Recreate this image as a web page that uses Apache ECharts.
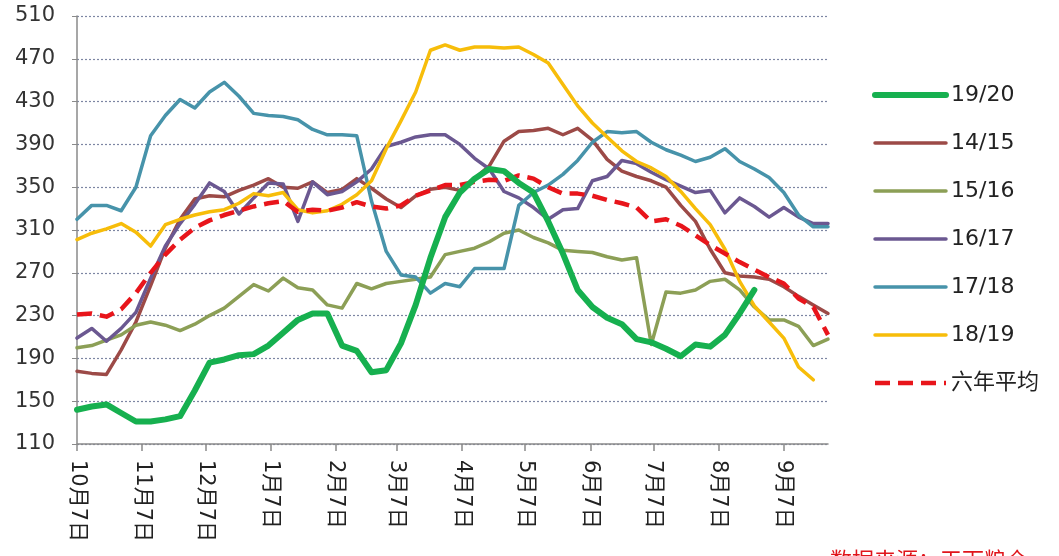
<!DOCTYPE html>
<html>
<head>
<meta charset="utf-8">
<script src="https://cdn.jsdelivr.net/npm/echarts@6/dist/echarts.min.js"></script>
<style>
html, body { margin: 0; padding: 0; background: #fff; }
#chart { width: 1059px; height: 556px; }
</style>
</head>
<body>
<div id="chart"></div>
<script>
// -------------------------
// Weekly stock comparison, season starts 10月7日
// -------------------------

// Series names (legend order)
const seriesNames = ['19/20', '14/15', '15/16', '16/17', '17/18', '18/19', '六年平均'];

// Weekly values, one point every 7 days from 10月7日
const s1920 = [142, 145, 147, 139, 131, 131, 133, 136, 160, 186, 189, 193, 194, 202, 214, 226, 232, 232, 202, 197, 177, 179, 204, 240, 284, 322, 345, 358, 367, 365, 354, 345, 318, 288, 254, 238, 228, 222, 208, 205, 199, 192, 203, 201, 212, 232, 254];
const s1415 = [178, 176, 175, 198, 224, 258, 293, 320, 339, 342, 341, 347, 352, 358, 350, 349, 355, 345, 348, 358, 349, 339, 331, 342, 348, 350, 347, 358, 370, 393, 402, 403, 405, 399, 405, 394, 376, 365, 360, 356, 350, 333, 318, 292, 270, 267, 266, 264, 257, 248, 240, 232];
const s1516 = [200, 202, 207, 212, 221, 224, 221, 216, 222, 230, 237, 248, 259, 253, 265, 256, 254, 240, 237, 260, 255, 260, 262, 264, 266, 287, 290, 293, 299, 307, 310, 303, 298, 291, 290, 289, 285, 282, 284, 203, 252, 251, 254, 262, 264, 254, 238, 226, 226, 220, 202, 208];
const s1617 = [209, 218, 206, 218, 233, 265, 295, 316, 334, 354, 346, 325, 340, 354, 353, 318, 355, 343, 346, 355, 367, 388, 392, 397, 399, 399, 390, 377, 367, 346, 340, 331, 320, 329, 330, 356, 360, 375, 372, 364, 357, 351, 345, 347, 326, 340, 332, 322, 331, 322, 316, 316];
const s1718 = [320, 333, 333, 328, 350, 398, 417, 432, 424, 439, 448, 435, 419, 417, 416, 413, 404, 399, 399, 398, 337, 290, 268, 266, 251, 260, 257, 274, 274, 274, 333, 345, 352, 362, 375, 392, 402, 401, 402, 392, 385, 380, 374, 378, 386, 374, 367, 359, 345, 324, 313, 313];
const s1819 = [301, 307, 311, 316, 308, 295, 315, 320, 324, 327, 329, 335, 344, 342, 345, 329, 326, 328, 334, 343, 356, 386, 412, 439, 478, 483, 478, 481, 481, 480, 481, 474, 466, 446, 426, 410, 397, 384, 374, 368, 360, 346, 330, 315, 292, 262, 239, 224, 209, 182, 170];
const sAvg = [231, 232, 229, 236, 251, 270, 287, 301, 312, 319, 324, 328, 332, 335, 337, 327, 329, 328, 331, 336, 332, 330, 333, 342, 347, 352, 352, 355, 357, 356, 361, 358, 350, 344, 344, 342, 338, 335, 331, 318, 320, 314, 305, 296, 288, 280, 273, 266, 260, 246, 238, 212];

// Colors
const colors = ['#16b04f', '#9c4a47', '#8c9f56', '#6b5891', '#4793aa', '#f7bd0a', '#e8151b'];

// Y axis ticks
const yMin = 110;
const yMax = 510;
const yStep = 40;

// Daily categories from 10月7日, labels shown on the 7th of each month
const dayCount = 358;
const days = [];
for (let i = 0; i < dayCount; i++) {
	const d = new Date(2019, 9, 7 + i);
	days.push(`${d.getMonth() + 1}月${d.getDate()}日`);
}
const isSeventh = (idx, val) => /^\d+月7日$/.test(val);

const toPoints = arr => arr.map((v, i) => [i * 7, v]);

const fontFamily = 'DejaVu Sans, Noto Sans CJK SC, sans-serif';

const weekly = [s1920, s1415, s1516, s1617, s1718, s1819, sAvg];

const series = weekly.map((arr, i) => {
	const isAvg = i === 6;
	return {
		name: seriesNames[i],
		type: 'line',
		symbol: 'none',
		data: toPoints(arr),
		z: i === 0 ? 5 : (isAvg ? 4 : 2),
		lineStyle: {
			color: colors[i],
			width: i === 0 ? 6 : (isAvg ? 4.5 : 3.5),
			type: isAvg ? [15, 8] : 'solid',
			cap: isAvg ? 'butt' : 'round',
			join: 'round'
		},
		itemStyle: { color: colors[i] }
	};
});

const chart = echarts.init(document.getElementById('chart'));
chart.setOption({
	animation: false,
	color: colors,
	grid: { left: 77, right: 231, top: 16, bottom: 112 },
	legend: {
		orient: 'vertical',
		left: 867,
		top: 78,
		itemWidth: 71,
		itemHeight: 14,
		itemGap: 24,
		data: seriesNames,
		itemStyle: { opacity: 0 },
		lineStyle: { width: 'inherit' },
		textStyle: { fontSize: 22, lineHeight: 24, color: '#222', fontFamily: fontFamily }
	},
	xAxis: {
		type: 'category',
		data: days,
		boundaryGap: false,
		axisLine: { lineStyle: { color: '#8a8a8a', width: 1.5 } },
		axisTick: { interval: isSeventh, length: 7, lineStyle: { color: '#8a8a8a', width: 1.5 } },
		axisLabel: {
			interval: isSeventh,
			rotate: -90,
			margin: 16,
			fontSize: 21,
			color: '#222',
			fontFamily: fontFamily
		},
		splitLine: { show: false }
	},
	yAxis: {
		type: 'value',
		min: yMin,
		max: yMax,
		interval: yStep,
		axisLine: { show: true, lineStyle: { color: '#8a8a8a', width: 1.5 } },
		axisTick: { show: true, length: 5, lineStyle: { color: '#8a8a8a' } },
		axisLabel: { fontSize: 21, color: '#333', margin: 22, fontFamily: fontFamily },
		splitLine: { lineStyle: { color: '#7d86a3', type: [2, 2], width: 1.2 } }
	},
	graphic: [{
		type: 'text',
		left: 830,
		top: 551,
		style: { text: '数据来源：天下粮仓', fill: '#e0141b', fontSize: 22, fontFamily: fontFamily }
	}],
	series: series
});
</script>
</body>
</html>
